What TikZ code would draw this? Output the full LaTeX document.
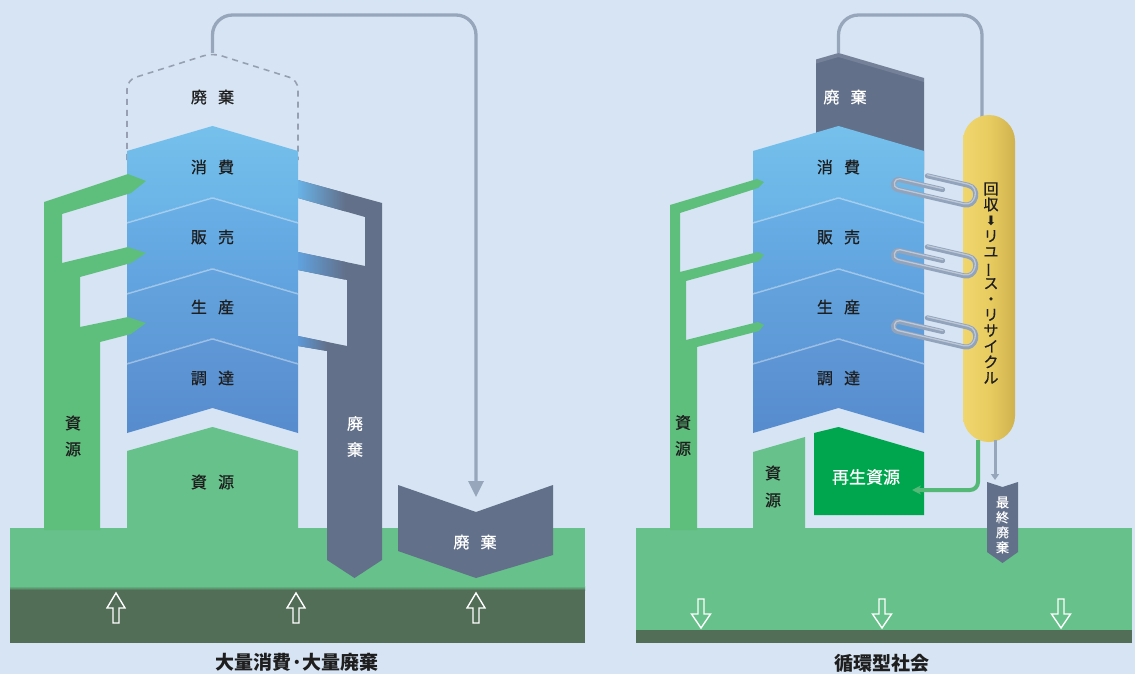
\documentclass[tikz,border=0pt]{standalone}
\usepackage{fontspec}
\usepackage{graphicx}
\usetikzlibrary{arrows.meta}
\newfontfamily\jp[FakeBold=0.6]{Noto Sans CJK JP}
\newfontfamily\jpb{Noto Sans CJK JP}
\newfontfamily\symf{DejaVu Sans}

\definecolor{bg}{RGB}{214,228,243}
\definecolor{grass}{RGB}{102,193,138}
\definecolor{soil}{RGB}{82,110,86}
\definecolor{stem}{RGB}{94,190,124}
\definecolor{blA}{RGB}{118,192,236}
\definecolor{blB}{RGB}{104,178,230}
\definecolor{blC}{RGB}{106,176,230}
\definecolor{blD}{RGB}{96,162,222}
\definecolor{blE}{RGB}{100,164,222}
\definecolor{blF}{RGB}{92,152,214}
\definecolor{blG}{RGB}{96,152,214}
\definecolor{blH}{RGB}{86,140,206}
\definecolor{waste}{RGB}{98,112,138}
\definecolor{recyc}{RGB}{0,166,78}
\definecolor{wire}{RGB}{152,166,188}
\definecolor{dashgray}{RGB}{150,160,178}
\definecolor{ink}{RGB}{30,30,30}
\definecolor{pillL}{RGB}{240,214,110}
\definecolor{pillM}{RGB}{232,204,96}
\definecolor{pillR}{RGB}{208,178,78}
\definecolor{pipe}{RGB}{84,184,118}
\definecolor{clipw}{RGB}{146,163,188}

\newcommand\jgap{\hspace{0.7em}}

\tikzset{
  lbl/.style={font=\jp\fontsize{16}{18}\selectfont, text=ink, inner sep=0pt},
  wlbl/.style={lbl, text=white},
  vlbl/.style={lbl, align=center, font=\jp\fontsize{16}{26}\selectfont},
  titlelbl/.style={font=\jpb\bfseries\fontsize{19}{21}\selectfont, text=ink, inner sep=0pt},
  wireline/.style={draw=wire, line width=3.3pt, rounded corners=20pt},
  groundarrow/.style={draw=white, line width=1.4pt},
}

% four chevron bands of the supply chain, left edge at #1
\newcommand\tower[2]{%
  \begin{scope}[shift={(#1,0)}]
    \shade[top color=blG, bottom color=blH] (0,363) -- (85.5,338) -- (171,363) -- (171,433) -- (85.5,408) -- (0,433) -- cycle;
    \shade[top color=blE, bottom color=blF] (0,293) -- (85.5,268) -- (171,293) -- (171,363) -- (85.5,338) -- (0,363) -- cycle;
    \shade[top color=blC, bottom color=blD] (0,222) -- (85.5,197) -- (171,222) -- (171,293) -- (85.5,268) -- (0,293) -- cycle;
    \shade[top color=blA, bottom color=blB] (0,151) -- (85.5,126) -- (171,151) -- (171,222) -- (85.5,197) -- (0,222) -- cycle;
    \foreach \yy in {197,268,338}
      \draw[white, opacity=.4, line width=1.3pt] (0,\yy+26) -- (85.5,\yy+1) -- (171,\yy+26);
    \node[lbl] (#2cons) at (85.5,167) {消\jgap 費};
    \node[lbl] (#2sale) at (85.5,237) {販\jgap 売};
    \node[lbl] (#2prod) at (85.5,307) {生\jgap 産};
    \node[lbl] (#2proc) at (85.5,378) {調\jgap 達};
  \end{scope}}

\newcommand\uparr[1]{\draw[groundarrow] (#1,593) -- (#1+9,608) -- (#1+3,608) -- (#1+3,623) -- (#1-3,623) -- (#1-3,608) -- (#1-9,608) -- cycle;}
\newcommand\downarr[1]{\draw[groundarrow] (#1-3,599) -- (#1+3,599) -- (#1+3,614) -- (#1+9.5,614) -- (#1,628) -- (#1-9.5,614) -- (#1-3,614) -- cycle;}

% paper-clip shaped return loop, right end centred at (#1,#2)
\newcommand\paperclip[2]{%
  \begin{scope}[shift={(#1,#2)}, rotate=-13]
    \draw[clipw, line width=5pt, line cap=round] (-42,-10) -- (0,-10) .. controls (13,-10) and (13,10) .. (0,10) -- (-68,10) .. controls (-75,10) and (-75,0) .. (-68,0) -- (-24,0);
    \draw[white, opacity=.4, line width=1.3pt, line cap=round] (-42,-11) -- (0,-11) .. controls (12,-11) and (12,9) .. (0,9) -- (-68,9) .. controls (-74,9) and (-74,-1) .. (-68,-1) -- (-24,-1);
  \end{scope}}

\begin{document}
\begin{tikzpicture}[x=1pt,y=-1pt]
\fill[bg] (0,0) rectangle (1135,674);
\useasboundingbox (0,0) rectangle (1135,674);

% ================= mass consumption society =================
\coordinate (Lapex) at (212.5,53);
\coordinate (Ldrop) at (476,497);
\draw[dashgray, line width=1.6pt, dash pattern=on 6pt off 5pt, rounded corners=9pt]
  (127,160) -- (127,80) -- (Lapex) -- (298,80) -- (298,160);
\draw[wireline, -{Triangle[length=16pt,width=15pt]}] (Lapex) -- (212.5,15) -- (476,15) -- (Ldrop);
\node[lbl] (Ltopwaste) at (212.5,97) {廃\jgap 棄};

% ground
\fill[grass] (10,528) rectangle (585,590);
\fill[soil] (10,589) rectangle (585,643);
\shade[top color=grass, bottom color=soil] (10,586) rectangle (585,590);
\uparr{116}
\uparr{296}
\uparr{476}

% waste column with its three inlets
\fill[waste] (298,180) -- (382,203) -- (382,560) -- (354.5,578) -- (327,560) -- (327,351) -- (298,346)
  -- (298,336) -- (347,346) -- (347,280) -- (298,270) -- (298,252) -- (365,266) -- (365,217) -- (298,198) -- cycle;
\shade[left color=blB, right color=waste] (298,180) -- (345,192.9) -- (345,211.3) -- (298,198) -- cycle;
\shade[left color=blD, right color=waste] (298,252) -- (345,261.8) -- (345,279.6) -- (298,270) -- cycle;
\shade[left color=blF, right color=waste] (298,336) -- (327,342) -- (327,351) -- (298,346) -- cycle;
\node[vlbl, text=white] (Lwastecol) at (355,436.5) {廃\\棄};

\tower{127}{L}
\fill[grass] (127,451) -- (212.5,427) -- (298,451) -- (298,530) -- (127,530) -- cycle;
\node[lbl] (Lres) at (212.5,482) {資\jgap 源};

% resource supply pipe
\fill[stem] (44,530) -- (44,202) -- (128,174) -- (146,181) -- (131,193) -- (62,214) -- (62,263) -- (128,247)
  -- (146,253) -- (131,263) -- (80,277) -- (80,327) -- (128,317) -- (146,323) -- (131,334) -- (100,342) -- (100,530) -- cycle;
\node[vlbl] (Lresv) at (73,436) {資\\源};

% landfill
\fill[waste] (398,485) -- (476,512) -- (553,485) -- (553,555) -- (476,578) -- (398,551) -- cycle;
\node[wlbl] (Llandfill) at (475,542) {廃\jgap 棄};

\node[titlelbl] (Ltitle) at (297,662) {大量消費·大量廃棄};

% ================= recycling society =================
\coordinate (Rapex) at (838.5,53);
\coordinate (Rpilltop) at (982,118);
\draw[wireline] (Rapex) -- (838.5,15) -- (982,15) -- (Rpilltop);

\fill[grass] (636,528) rectangle (1132,632);
\fill[soil] (636,630) rectangle (1132,643);
\downarr{701}
\downarr{882}
\downarr{1061}

\fill[waste] (816,59.5) -- (838.5,53) -- (924,78) -- (924,170) -- (816,170) -- cycle;
\fill[white, opacity=.12] (816,59.5) -- (838.5,53) -- (924,78) -- (924,82) -- (838.5,57) -- (816,63.5) -- cycle;
\node[wlbl] (Rtopwaste) at (845,97) {廃\jgap 棄};

\tower{753}{R}

% recycled resources and virgin resources
\fill[recyc] (814,433) -- (838.5,427) -- (924,452) -- (924,515) -- (814,515) -- cycle;
\node[wlbl, font=\jp\fontsize{17}{18}\selectfont] (Rrecyc) at (866,477) {再生資源};
\fill[grass] (753,452) -- (805,437) -- (805,530) -- (753,530) -- cycle;
\node[vlbl, font=\jp\fontsize{16}{27}\selectfont] (Rresblk) at (773,486.5) {資\\源};

\fill[stem] (670,530) -- (670,205) -- (757,179) -- (764,182) -- (758,188) -- (680,213) -- (680,272) -- (758,252)
  -- (764,255) -- (759,261) -- (686,281) -- (686,340) -- (758,322) -- (764,325) -- (759,331) -- (697,347) -- (697,530) -- cycle;
\node[vlbl] (Rresv) at (683,435.5) {資\\源};

% collection column
\shade[left color=pillL, right color=pillR, middle color=pillM, rounded corners=26pt] (963,115) rectangle (1015,442);
\node[align=center, inner sep=0pt, text=ink, font=\jp\fontsize{15}{15.75}\selectfont] (Rpilltext) at (991,283)
  {回\\収\\{\symf\fontsize{13}{13}\selectfont ⬇}\\リ\\ユ\\\smash{\rotatebox[origin=c]{90}{ー}}\\ス\\・\\リ\\サ\\イ\\ク\\ル};

\paperclip{966}{195}
\paperclip{966}{266}
\paperclip{966}{337}

\coordinate (Rpillg) at (978,440);
\coordinate (Rpillw) at (995,440);
\draw[pipe, line width=4pt, rounded corners=8pt, -{Stealth[length=9pt,width=9pt]}] (Rpillg) -- (978,490) -- (912,490);
\draw[wire, line width=3pt, -{Triangle[length=6pt,width=8pt]}] (Rpillw) -- (995,480);

\fill[waste] (987,482) -- (1002.5,487) -- (1018,482) -- (1018,552) -- (1002.5,563) -- (987,552) -- cycle;
\node[align=center, inner sep=0pt, text=white, font=\jp\fontsize{13}{15}\selectfont] (Rfinal) at (1002.5,525) {最\\終\\廃\\棄};

\node[titlelbl] (Rtitle) at (882,663) {循環型社会};
\end{tikzpicture}
\end{document}
